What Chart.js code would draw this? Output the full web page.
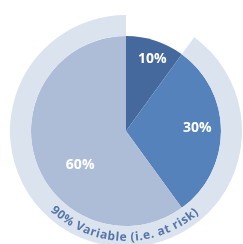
<!DOCTYPE html>
<html><head><meta charset="utf-8">
<script src="https://cdn.jsdelivr.net/npm/chart.js@4"></script>
<style>html,body{margin:0;padding:0;background:#fff;overflow:hidden}#wrap{width:243px;height:247px;position:relative}</style>
</head><body><div id="wrap"><canvas id="c"></canvas></div>
<script>
const categories = ['Fixed', 'Variable (part 1)', 'Variable (part 2)'];
const shares = [10, 30, 60];
const sliceLabels = ['10%', '30%', '60%'];
const ringCategories = ['Fixed', 'Variable'];
const ringValues = [10, 90];
const ringLabel = '90% Variable (i.e. at risk)';

const sliceColors = ['#45699c', '#5582ba', '#adbcd7'];
const ringColors = ['rgba(0,0,0,0)', '#dbe3ef'];

const sliceLabelPlugin = {
  id: 'sliceLabels',
  afterDatasetsDraw(chart, args, opts) {
    const ctx = chart.ctx;
    const meta = chart.getDatasetMeta(1);
    ctx.save();
    ctx.fillStyle = '#ffffff';
    ctx.font = 'bold 14px "Open Sans"';
    ctx.textAlign = 'center';
    ctx.textBaseline = 'middle';
    meta.data.forEach((arc, i) => {
      const p = arc.getProps(['x', 'y', 'startAngle', 'endAngle', 'outerRadius'], true);
      const adj = opts.adjust[i];
      const mid = (p.startAngle + p.endAngle) / 2 + adj[0] * Math.PI / 180;
      const r = p.outerRadius * adj[1];
      ctx.fillText(sliceLabels[i], p.x + Math.cos(mid) * r, p.y + Math.sin(mid) * r);
    });
    ctx.restore();
  }
};

const ringTextPlugin = {
  id: 'ringText',
  afterDatasetsDraw(chart, args, opts) {
    const ctx = chart.ctx;
    const arc = chart.getDatasetMeta(0).data[1];
    const p = arc.getProps(['x', 'y', 'outerRadius'], true);
    const r = p.outerRadius - opts.inset;
    ctx.save();
    ctx.fillStyle = opts.color;
    ctx.font = opts.font;
    ctx.textAlign = 'center';
    ctx.textBaseline = 'alphabetic';
    const chars = Array.from(ringLabel);
    const widths = chars.map(ch => ctx.measureText(ch).width + opts.spacing);
    const total = widths.reduce((a, b) => a + b, 0);
    const startRad = opts.centerDeg * Math.PI / 180 + total / r / 2;
    let acc = 0;
    chars.forEach((ch, i) => {
      const w = widths[i];
      const th = startRad - (acc + w / 2) / r;
      const phi = th - Math.PI / 2;
      ctx.save();
      ctx.translate(p.x + Math.cos(phi) * r, p.y + Math.sin(phi) * r);
      ctx.rotate(th - Math.PI);
      ctx.fillText(ch, 0, 0);
      ctx.restore();
      acc += w;
    });
    ctx.restore();
  }
};

new Chart(document.getElementById('c'), {
  type: 'doughnut',
  data: {
    labels: categories,
    datasets: [
      { label: 'ring', data: ringValues, backgroundColor: ringColors, borderWidth: 0, weight: 21 },
      { label: 'share', data: shares, backgroundColor: sliceColors, borderWidth: 0, weight: 95 }
    ]
  },
  options: {
    responsive: true,
    maintainAspectRatio: false,
    animation: false,
    events: [],
    cutout: 0,
    layout: { padding: { left: 10, right: 1, top: 15, bottom: 0 } },
    plugins: {
      legend: { display: false },
      tooltip: { enabled: false },
      sliceLabels: { adjust: [[2, 0.81], [-2, 0.75], [-18.5, 0.6]] },
      ringText: { inset: 6, centerDeg: 181, spacing: 0.6, color: '#5675a8', font: 'bold 12px "Open Sans"' }
    }
  },
  plugins: [sliceLabelPlugin, ringTextPlugin]
});
</script></body></html>
